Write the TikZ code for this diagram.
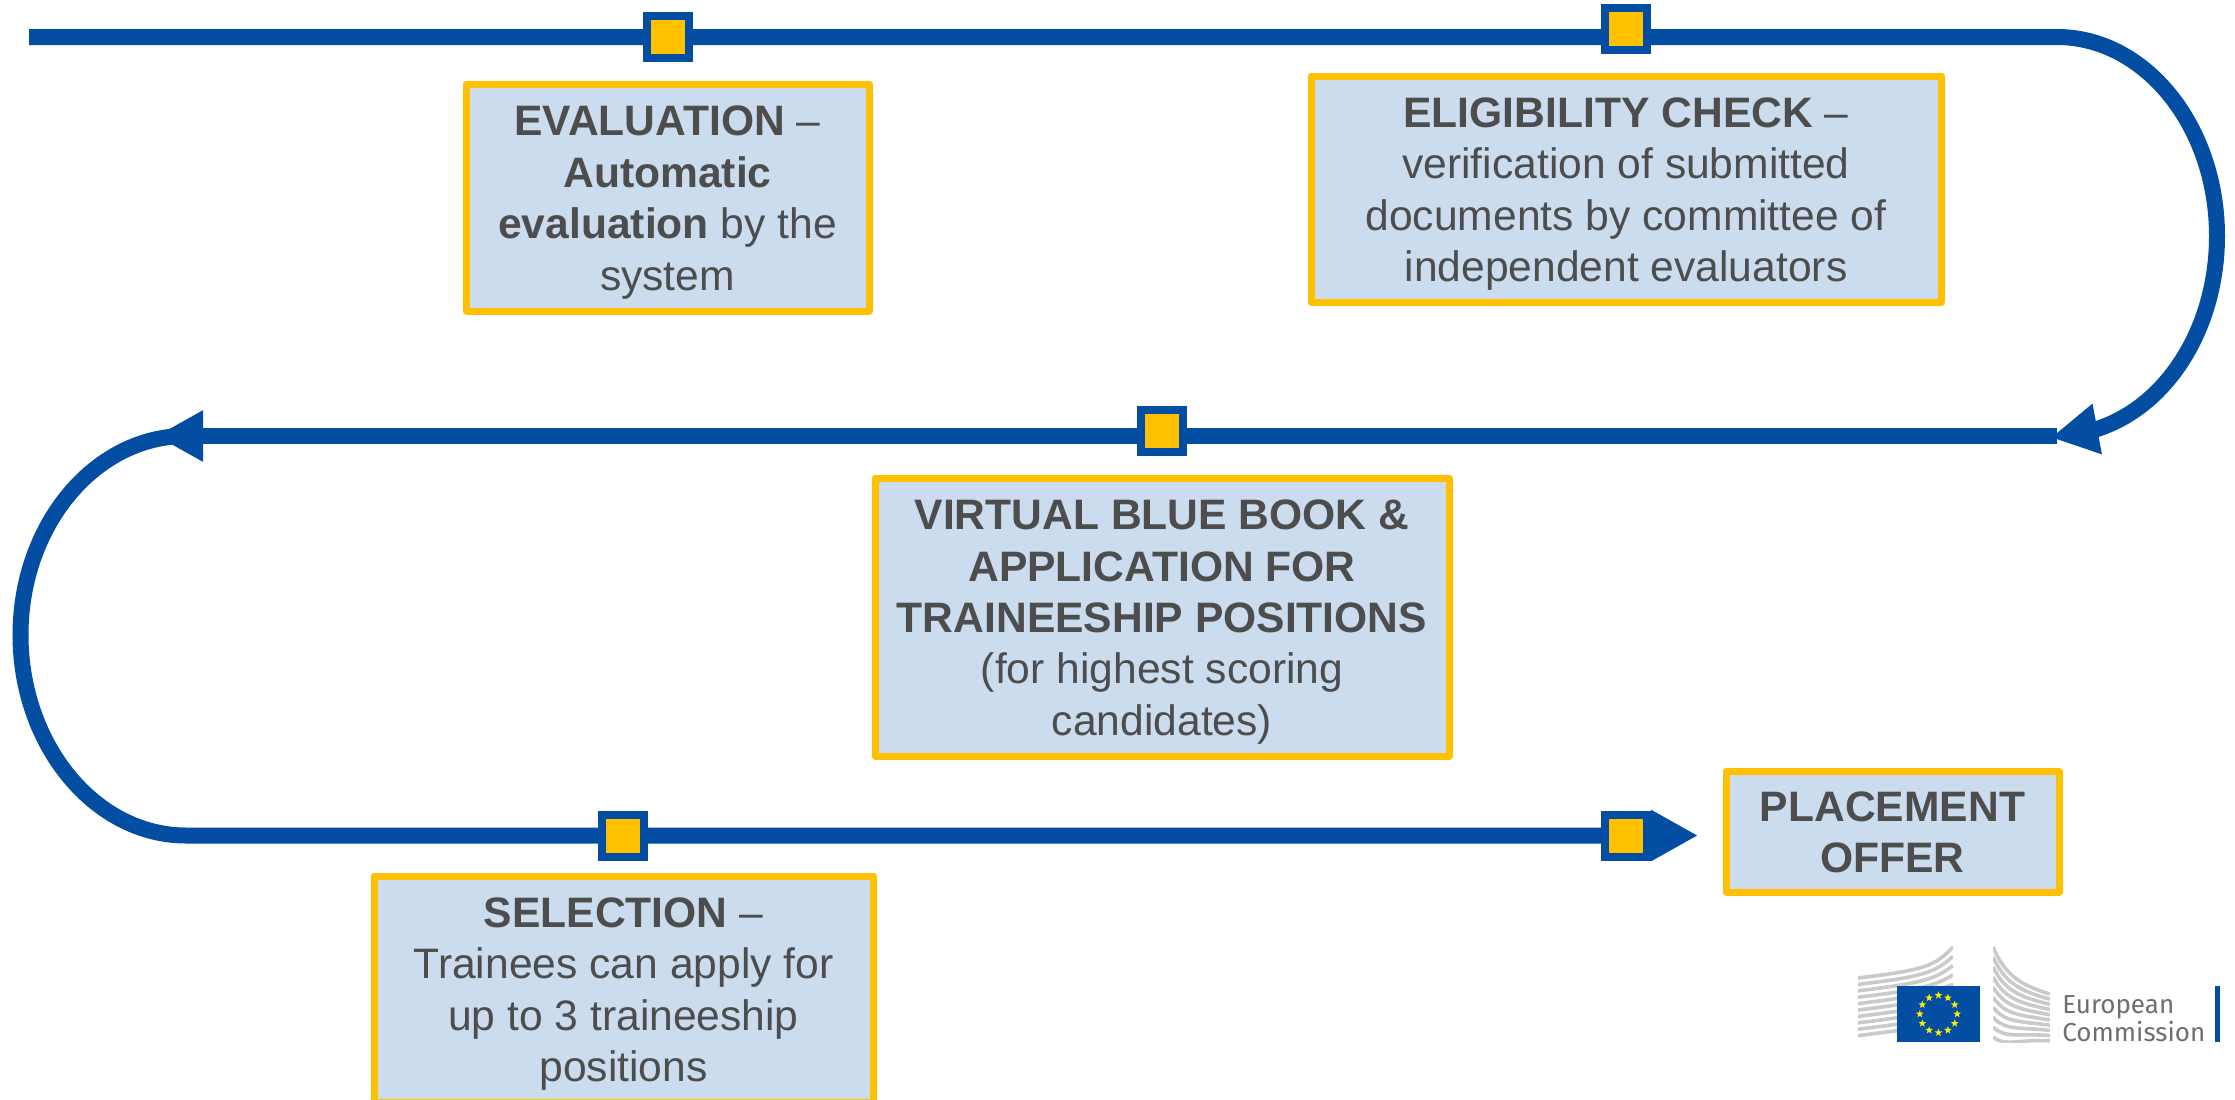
\documentclass[tikz,border=0pt]{standalone}
\usepackage{fontspec}
\setmainfont{Liberation Sans}
\newfontfamily\logofont{Fira Sans}
\usetikzlibrary{arrows.meta,shapes.geometric}
\definecolor{myblue}{HTML}{034EA2}
\definecolor{mygold}{HTML}{FFC000}
\definecolor{myfill}{HTML}{CBDCEE}
\definecolor{mytext}{HTML}{4D4D4D}
\definecolor{mygray}{HTML}{C9CACB}
\definecolor{mylogotext}{HTML}{6D6E70}
\definecolor{mystar}{HTML}{FFED00}
\newcommand{\boxtop}{\rule{0pt}{20pt}}
\newcommand{\boxbot}{\rule[-4.5pt]{0pt}{0pt}}

\begin{document}
\begin{tikzpicture}[
      x=0.5pt,y=-0.5pt,
      mybox/.style={
         rectangle,
         draw=mygold,
         fill=myfill,
         line width=3.5pt,
         line join=round,
         text=mytext,
         align=center,
         inner sep=0pt,
         font=\fontsize{21.3}{25.7}\selectfont},
      mymarker/.style={
         rectangle,
         draw=myblue,
         fill=mygold,
         line width=4pt,
         inner sep=0pt,
         minimum size=21pt},
      myline/.style={draw=myblue,line width=8pt},
      myarrow/.style={-{Triangle[length=23.5pt,width=24pt]}},
      mystripe/.style={draw=mygray,line width=1.8pt},
      mylogotext/.style={
         text=mylogotext,
         anchor=base west,
         inner sep=0pt,
         font=\logofont\fontsize{13}{15}\selectfont}
      ]
    \useasboundingbox (0,0) rectangle (2235,1099);

    % the line, top to bottom
    \coordinate (start) at (29,37);
    \coordinate (turnA) at (2057,37);
    \coordinate (turnB) at (2217,236);
    \coordinate (neck) at (2097,429);
    \coordinate (tipA) at (2051,437.5);
    \coordinate (lineB) at (2057,436);
    \coordinate (tipB) at (156,436);
    \coordinate (turnC) at (186,436);
    \coordinate (turnD) at (20.5,635);
    \coordinate (turnE) at (186,835.5);
    \coordinate (tipC) at (1698,835.5);

    \draw [myline,myarrow] (start) -- (turnA)
       .. controls (2145,37) and (2217,126) .. (turnB)
       .. controls (2217,327) and (2168,406) .. (neck) -- (tipA);
    \draw [myline,myarrow] (lineB) -- (tipB);
    \draw [myline,myarrow] (turnC)
       .. controls (95,436) and (20.5,525) .. (turnD)
       .. controls (20.5,745) and (95,835.5) .. (turnE) -- (tipC);

    \foreach \n/\x/\y in {% name/x/y
      m1/667.5/37,
      m2/1626/29,
      m3/1162/431,
      m4/623/835.5,
      m5/1626/835.5}
       \node[mymarker] (\n) at (\x,\y) {};

    \foreach \n/\x/\y/\w/\h/\txt in {% name/x/y/width/height/text
      evaluation/667.5/197.5/201.5pt/113.5pt/{\textbf{EVALUATION} –\\\textbf{Automatic}\\\textbf{evaluation} by the\\system},
      eligibility/1626/189/315pt/113pt/{\textbf{ELIGIBILITY CHECK} –\\verification of submitted\\documents by committee of\\independent evaluators},
      bluebook/1162/617/287pt/139pt/{\textbf{VIRTUAL BLUE BOOK \&}\\\textbf{APPLICATION FOR}\\\textbf{TRAINEESHIP POSITIONS}\\(for highest scoring\\candidates)},
      selection/623.5/989/249.5pt/113pt/{\textbf{SELECTION} –\\Trainees can apply for\\up to 3 traineeship\\positions},
      placement/1892.5/831.5/166.5pt/60.5pt/{\textbf{PLACEMENT}\\\textbf{OFFER}}}
       \node[mybox,minimum width=\w,minimum height=\h] (\n) at (\x,\y) {\boxtop\txt\boxbot};

    % logo
    \begin{scope}
      \clip (1858,946) rectangle (1953,1042);
      \foreach \i in {0,...,9}
         \draw [mystripe] (1858,{978+6.4*\i})
            .. controls (1925,{970+6.4*\i}) and (1935,{966+6.4*\i}) .. (1953,{947+9.3*\i});
    \end{scope}
    \begin{scope}
      \clip (1993,946) rectangle (2050,1042);
      \foreach \i in {0,...,9}
         \draw [mystripe] (1993,{947+10*\i})
            .. controls (2005,{975+8*\i}) and (2020,{985+6*\i}) .. (2050,{994+5.2*\i});
    \end{scope}
    \node[rectangle,fill=myblue,inner sep=0pt,minimum width=41.5pt,minimum height=28pt] (flag) at (1938.5,1014) {};
    \foreach \i in {0,...,11}
       \node[star,star points=5,star point ratio=2.4,fill=mystar,inner sep=0pt,minimum size=4pt]
          (star\i) at ([shift={({\i*30}:18.7)}]flag.center) {};
    \node[mylogotext] (european) at (2062,1013) {European};
    \node[mylogotext] (commission) at (2062,1041.5) {Commission};
    \node[rectangle,fill=myblue,inner sep=0pt,minimum width=2.5pt,minimum height=28pt] (logobar) at (2217.5,1014) {};

\end{tikzpicture}
\end{document}
